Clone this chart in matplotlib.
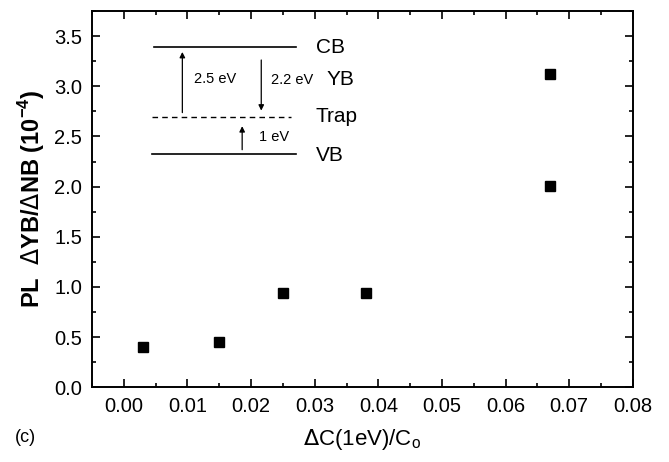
import matplotlib
matplotlib.use("Agg")
import matplotlib.pyplot as plt
from matplotlib.ticker import MultipleLocator

plt.rcParams['font.family'] = ['Liberation Sans', 'DejaVu Sans']

# data
dC = [0.003, 0.015, 0.025, 0.038, 0.067, 0.067]
ratio = [0.40, 0.45, 0.94, 0.94, 2.01, 3.12]

fig = plt.figure(figsize=(6.69, 4.62), dpi=100)
ax = fig.add_axes([0.1375, 0.162, 0.8085, 0.814])

ax.plot(dC, ratio, 's', color='black', markersize=6.5)

ax.set_xlim(-0.005, 0.08)
ax.set_ylim(0.0, 3.75)
ax.xaxis.set_major_locator(MultipleLocator(0.01))
ax.xaxis.set_minor_locator(MultipleLocator(0.005))
ax.yaxis.set_major_locator(MultipleLocator(0.5))
ax.yaxis.set_minor_locator(MultipleLocator(0.25))
ax.set_xticks([0.0, 0.01, 0.02, 0.03, 0.04, 0.05, 0.06, 0.07, 0.08])
ax.set_xticklabels(['0.00', '0.01', '0.02', '0.03', '0.04', '0.05', '0.06', '0.07', '0.08'])
ax.tick_params(which='both', direction='in', top=True, right=True, width=1.2, labelsize=14.5)
ax.tick_params(which='major', length=6, pad=7)
ax.tick_params(which='minor', length=3)
for s in ax.spines.values():
    s.set_linewidth(1.4)

ax.set_xlabel(r'$\Delta$C(1eV)/C$_\mathregular{o}$', fontsize=16, labelpad=8)
ax.set_ylabel(r'PL  $\Delta$YB/$\Delta$NB (10$^\mathregular{-4}$)', fontsize=17,
              fontweight='bold', labelpad=5)

# energy level inset
ax.plot([0.0048, 0.0270], [3.39, 3.39], color='black', lw=1.2)
ax.plot([0.0045, 0.0263], [2.69, 2.69], color='black', lw=1.0, ls=(0, (4, 3)))
ax.plot([0.0044, 0.0270], [2.32, 2.32], color='black', lw=1.2)
arr = dict(arrowstyle='-|>', color='black', lw=0.9, mutation_scale=8)
ax.annotate('', xy=(0.0092, 3.37), xytext=(0.0092, 2.71), arrowprops=arr)
ax.annotate('', xy=(0.0216, 2.73), xytext=(0.0216, 3.29), arrowprops=arr)
ax.annotate('', xy=(0.0186, 2.63), xytext=(0.0186, 2.34), arrowprops=arr)
ax.text(0.0302, 3.39, 'CB', fontsize=15, va='center')
ax.text(0.0318, 3.07, 'YB', fontsize=15, va='center')
ax.text(0.0302, 2.70, 'Trap', fontsize=15, va='center')
ax.text(0.0302, 2.31, 'VB', fontsize=15, va='center')
ax.text(0.0111, 3.07, '2.5 eV', fontsize=10.5, va='center')
ax.text(0.0232, 3.06, '2.2 eV', fontsize=10.5, va='center')
ax.text(0.0213, 2.49, '1 eV', fontsize=10.5, va='center')

fig.text(0.022, 0.052, '(c)', fontsize=13, va='center')

fig.savefig('out.png', dpi=100)
